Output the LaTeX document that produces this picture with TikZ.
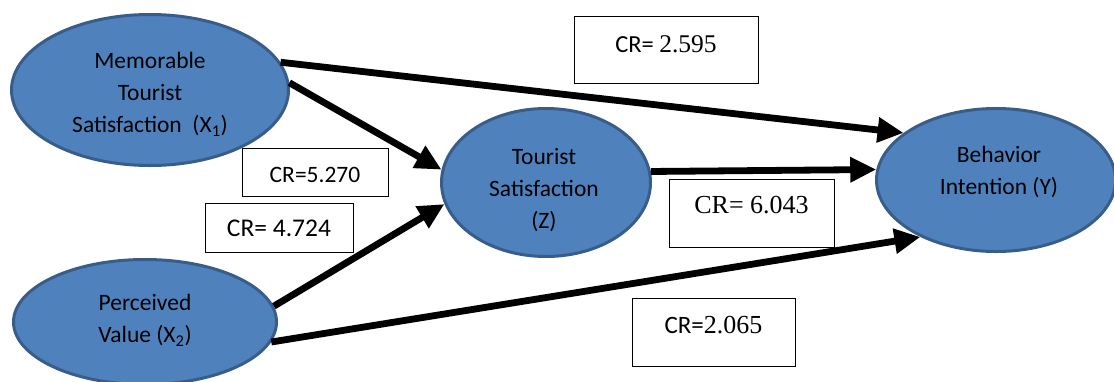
\documentclass[tikz,border=0pt]{standalone}
\usepackage{fontspec}
\setmainfont{Carlito}
\newfontfamily\tnr{Liberation Serif}
\usetikzlibrary{arrows.meta,shapes.geometric}
\definecolor{ellfill}{HTML}{4F81BD}
\definecolor{elldraw}{HTML}{385D8A}
\begin{document}
\begin{tikzpicture}[x=1pt,y=-1pt,
  ell/.style={ellipse, fill=ellfill, draw=elldraw, line width=3pt, inner sep=0pt},
  lbl/.style={align=center, font=\fontsize{23.5}{32}\selectfont, inner sep=0pt, text=black},
  crbox/.style={draw=black, line width=1pt, fill=white, inner sep=0pt},
  conn/.style={line width=6.8pt, -{Triangle[length=26pt,width=24pt]}}]
\useasboundingbox (0,0) rectangle (1114,381);
\clip (0,0) rectangle (1114,381);
% ellipses
\node[ell, minimum width=277pt, minimum height=151pt] (X1) at (150,90) {};
\node[ell, minimum width=263pt, minimum height=125pt] (X2) at (145,322) {};
\node[ell, minimum width=209pt, minimum height=148pt] (Z) at (546,182.5) {};
\node[ell, minimum width=239pt, minimum height=143pt] (Y) at (996,180) {};
% labels
\node[lbl] (X1t) at (150,94) {Memorable\\Tourist\\Satisfaction\ \ (X\textsubscript{1})};
\node[lbl] (X2t) at (145,320) {Perceived\\Value (X\textsubscript{2})};
\node[lbl] (Zt) at (544,190) {Tourist\\Satisfaction\\(Z)};
\node[lbl] (Yt) at (999,172) {Behavior\\Intention (Y)};
% connectors
\draw[conn] (X1.12) -- (Y.153);
\draw[conn] (X1.3) -- (Z.173);
\draw[conn] (X2.7) -- (Z.192);
\draw[conn] (X2.351) -- (Y.217);
\draw[conn] (Z.6) -- (Y.175);
% CR boxes
\node[crbox, minimum width=184pt, text height=36pt, text depth=31pt] (B1) at (666,49.5)
  {\fontsize{24.5}{24.5}\selectfont CR= {\tnr\fontsize{25.5}{25.5}\selectfont 2.595}};
\node[crbox, minimum width=146pt, text height=34pt, text depth=14pt] (B2) at (315,172)
  {\fontsize{23.5}{23.5}\selectfont CR=5.270};
\node[crbox, minimum width=148pt, text height=33pt, text depth=16pt] (B3) at (279,227.5)
  {\fontsize{25.5}{25.5}\selectfont CR= 4.724};
\node[crbox, minimum width=165pt, text height=34pt, text depth=34pt] (B4) at (751.5,213)
  {\tnr\fontsize{26}{26}\selectfont CR= 6.043};
\node[crbox, minimum width=163pt, text height=35pt, text depth=33pt] (B5) at (713.5,332)
  {\fontsize{25}{25}\selectfont CR={\tnr\fontsize{26}{26}\selectfont 2.065}};
\end{tikzpicture}
\end{document}
